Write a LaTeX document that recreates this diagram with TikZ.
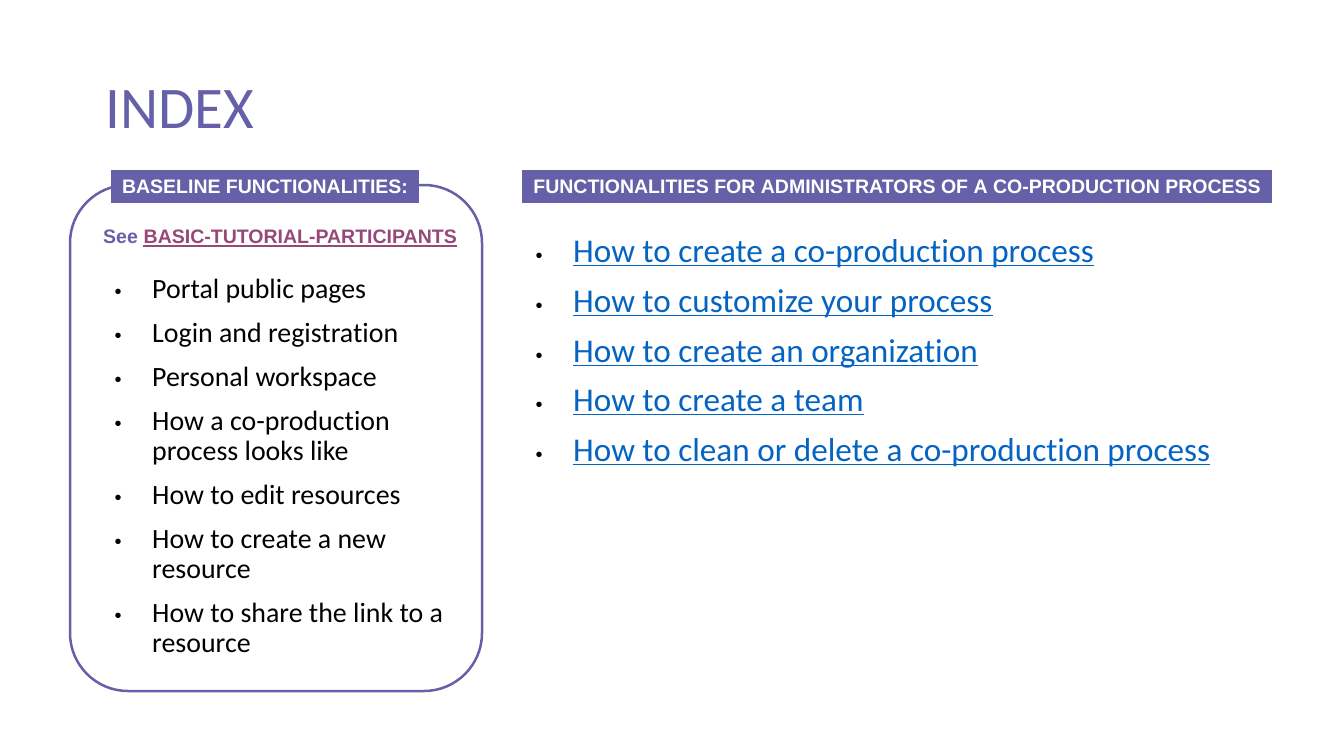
\documentclass[tikz,border=0pt]{standalone}
\usepackage{fontspec}
\setmainfont[Ligatures=NoCommon]{Carlito}
\newfontfamily\arialfont{Liberation Sans}
\definecolor{ipurple}{RGB}{102,96,168}
\definecolor{linkmauve}{RGB}{150,72,120}
\definecolor{linkblue}{RGB}{5,99,193}
\tikzset{
  hdr/.style={fill=ipurple, text=white, inner sep=0, minimum height=33pt,
    font=\arialfont\bfseries\fontsize{19.5}{19.5}\selectfont},
  lbul/.style={anchor=base, inner sep=0, font=\arialfont\fontsize{20}{20}\selectfont},
  litem/.style={anchor=base west, inner sep=0, font=\fontsize{27.9}{30}\selectfont},
  ritem/.style={anchor=base west, inner sep=0, text=linkblue, font=\fontsize{33.2}{34}\selectfont},
  uline/.style={line width=1.8pt},
}
\begin{document}
\begin{tikzpicture}[x=1pt,y=-1pt]
\useasboundingbox (0,0) rectangle (1333,750);
\node[anchor=base west, inner sep=0, text=ipurple, font=\fontsize{59}{59}\selectfont] (title) at (105,128) {INDEX};
% left box
\node[draw=ipurple, line width=2.5pt, rounded corners=58pt, minimum width=412pt, minimum height=506pt, inner sep=0] (box) at (276,438) {};
\node[hdr, minimum width=308pt] (lhdr) at (265,186.5) {BASELINE FUNCTIONALITIES:};
\node[anchor=base west, inner sep=0, text=ipurple, font=\arialfont\bfseries\fontsize{19.5}{19.5}\selectfont] (see) at (103,243) {See};
\node[anchor=base west, inner sep=0, text=linkmauve, font=\arialfont\bfseries\fontsize{19.5}{19.5}\selectfont] (seelink) at ([xshift=5.4pt]see.base east) {BASIC-TUTORIAL-PARTICIPANTS};
\draw[linkmauve, uline] ([yshift=-3pt]seelink.base west) -- ([yshift=-3pt]seelink.base east);
\foreach \y/\n in {298/1,342/2,386/3,430/4,504/5,548/6,622/7}
  \node[lbul] (b\n) at (118,\y) {•};
\node[litem] (t1) at (152,298) {Portal public pages};
\node[litem] (t2) at (152,342) {Login and registration};
\node[litem] (t3) at (152,386) {Personal workspace};
\node[litem] (t4a) at (152,430) {How a co-production};
\node[litem] (t4b) at (152,460) {process looks like};
\node[litem] (t5) at (152,504) {How to edit resources};
\node[litem] (t6a) at (152,548) {How to create a new};
\node[litem] (t6b) at (152,578) {resource};
\node[litem] (t7a) at (152,622) {How to share the link to a};
\node[litem] (t7b) at (152,652) {resource};
% right
\node[hdr, minimum width=750pt] (rhdr) at (897,186.5) {FUNCTIONALITIES FOR ADMINISTRATORS OF A CO-PRODUCTION PROCESS};
\foreach \y/\n in {262/1,312/2,362/3,411/4,461/5}
  \node[lbul] (rb\n) at (539,\y) {•};
\node[ritem] (r1) at (573,262) {How to create a co-production process};
\node[ritem] (r2) at (573,312) {How to customize your process};
\node[ritem] (r3) at (573,362) {How to create an organization};
\node[ritem] (r4) at (573,411) {How to create a team};
\node[ritem] (r5) at (573,461) {How to clean or delete a co-production process};
\foreach \n in {1,...,5}
  \draw[linkblue, uline] ([yshift=-3.5pt]r\n.base west) -- ([yshift=-3.5pt]r\n.base east);
\end{tikzpicture}
\end{document}
